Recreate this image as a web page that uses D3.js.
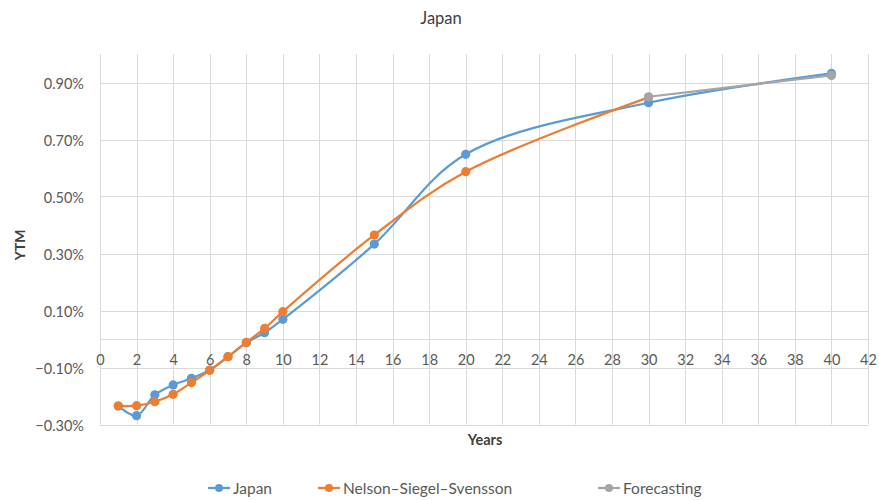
<!DOCTYPE html>
<html><head><meta charset="utf-8">
<script src="https://cdn.jsdelivr.net/npm/d3@7"></script>
<style>body{margin:0;background:#fff}svg{display:block}text{font-family:Lato,"Open Sans",sans-serif}</style>
</head><body>
<script>
const japanX = [1,2,3,4,5,6,7,8,9,10,15,20,30,40];
const japanY = [-0.235,-0.269,-0.196,-0.161,-0.138,-0.109,-0.062,-0.013,0.022,0.069,0.333,0.648,0.829,0.932];
const nssX = [1,2,3,4,5,6,7,8,9,10,15,20,30];
const nssY = [-0.235,-0.234,-0.220,-0.194,-0.153,-0.110,-0.062,-0.012,0.037,0.096,0.365,0.587,0.848];
const fcX = [30,40];
const fcY = [0.850,0.925];
const xTicks = d3.range(0,43,2);
const yTicks = [-0.3,-0.1,0.1,0.3,0.5,0.7,0.9];
const seriesNames = ["Japan","Nelson\u2013Siegel\u2013Svensson","Forecasting"];
const colors = ["#5B9BD5","#ED7D31","#A5A5A5"];

const W=879,H=501;
const svg=d3.select("body").append("svg").attr("width",W).attr("height",H);
const x=d3.scaleLinear().domain([0,42]).range([100,868]);
const y=d3.scaleLinear().domain([-0.3,1.0]).range([424.5,54]);

const grid=svg.append("g").attr("stroke","#d9d9d9").attr("stroke-width",1);
grid.selectAll("line.v").data(xTicks).join("line")
  .attr("x1",d=>Math.round(x(d))+0.5).attr("x2",d=>Math.round(x(d))+0.5)
  .attr("y1",y(1.0)).attr("y2",y(-0.3));
grid.selectAll("line.h").data(yTicks.concat([0])).join("line")
  .attr("x1",x(0)).attr("x2",x(42))
  .attr("y1",d=>Math.round(y(d))+0.5).attr("y2",d=>Math.round(y(d))+0.5);

// y axis labels
const yAxis=d3.axisLeft(y).tickValues(yTicks).tickSize(0).tickPadding(16)
  .tickFormat(d=>d3.format(".2f")(d)+"%");
const gy=svg.append("g").attr("transform",`translate(${x(0)},1)`).call(yAxis);
gy.select(".domain").remove();
gy.selectAll("text").attr("fill","#595959").style("font-size","14.5px");

// x axis labels at zero line
const xAxis=d3.axisBottom(x).tickValues(xTicks).tickSize(0).tickPadding(16);
const gx=svg.append("g").attr("transform",`translate(0,${y(0)})`).call(xAxis);
gx.select(".domain").remove();
gx.selectAll("text").attr("fill","#595959").style("font-size","14.5px");

// series
const curve=d3.curveCatmullRom.alpha(0.5);
const series=[
  {xs:japanX,ys:japanY,c:colors[0]},
  {xs:nssX,ys:nssY,c:colors[1]},
  {xs:fcX,ys:fcY,c:colors[2]}
];
series.forEach(s=>{
  const pts=s.xs.map((v,i)=>[v,s.ys[i]]);
  svg.append("path").datum(pts)
    .attr("fill","none").attr("stroke",s.c).attr("stroke-width",2.25)
    .attr("d",d3.line().x(d=>x(d[0])).y(d=>y(d[1])).curve(curve));
  svg.append("g").selectAll("circle").data(pts).join("circle")
    .attr("cx",d=>x(d[0])).attr("cy",d=>y(d[1])).attr("r",4.6).attr("fill",s.c);
});

// titles
svg.append("text").attr("x",441).attr("y",24).attr("text-anchor","middle")
  .attr("fill","#404040").style("font-size","16.5px").text("Japan");
svg.append("text").attr("transform","translate(25,245) rotate(-90)").attr("text-anchor","middle")
  .attr("fill","#404040").style("font-size","14px").style("font-weight","bold").text("YTM");
svg.append("text").attr("x",485).attr("y",445).attr("text-anchor","middle")
  .attr("fill","#404040").style("font-size","14.5px").style("font-weight","bold").text("Years");

// legend
const legX=[208,318,598];
const lg=svg.append("g");
seriesNames.forEach((n,i)=>{
  const g=lg.append("g").attr("transform",`translate(${legX[i]},488)`);
  g.append("line").attr("x1",0).attr("x2",22).attr("stroke",colors[i]).attr("stroke-width",2.25);
  g.append("circle").attr("cx",11).attr("r",4).attr("fill",colors[i]);
  g.append("text").attr("x",25).attr("y",5.5).attr("fill","#595959").style("font-size","15.5px").text(n);
});
</script>
</body></html>
